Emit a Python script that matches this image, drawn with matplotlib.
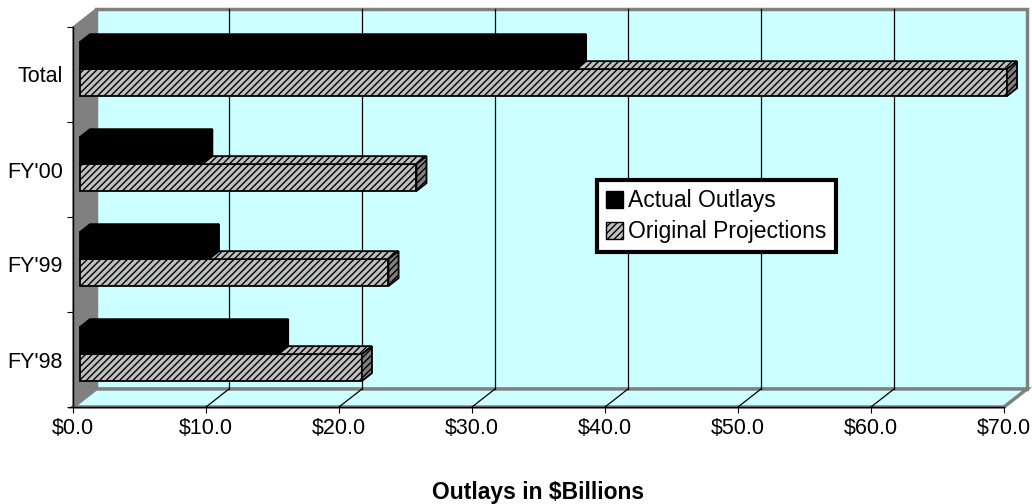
import matplotlib.pyplot as plt
from matplotlib.patches import Polygon, Patch

categories = ["FY'98", "FY'99", "FY'00", "Total"]
actual_outlays = [14.9, 9.7, 9.2, 37.3]
original_projections = [21.2, 23.2, 25.3, 69.7]
x_ticks = [0, 10, 20, 30, 40, 50, 60, 70]
series_names = ["Actual Outlays", "Original Projections"]

plt.rcParams['font.family'] = ['Liberation Sans', 'DejaVu Sans']
plt.rcParams['hatch.linewidth'] = 1.0

fig = plt.figure(figsize=(10.32, 5.04), dpi=100)
ax = fig.add_axes([73 / 1032, 97 / 504, 931 / 1032, 380 / 504])
ax.set_xlim(0, 70)
ax.set_ylim(-0.5, 3.5)
ax.patch.set_alpha(0)

# oblique offset of the box depth, in data units
dx = 1.73
dy = 0.19


def pt(x, y, d):
    return (x + d * dx, y + d * dy)


wall = '#CCFFFF'
grey = '#808080'
xmax = x_ticks[-1]

# back wall, floor and side wall
ax.add_patch(Polygon([pt(0, -0.5, 1), pt(xmax, -0.5, 1), pt(xmax, 3.5, 1), pt(0, 3.5, 1)],
                     closed=True, facecolor=wall, edgecolor=grey, lw=2.5, clip_on=False, zorder=0.1))
ax.add_patch(Polygon([pt(0, -0.5, 0), pt(xmax, -0.5, 0), pt(xmax, -0.5, 1), pt(0, -0.5, 1)],
                     closed=True, facecolor=wall, edgecolor=grey, lw=2.5, clip_on=False, zorder=0.2))
ax.add_patch(Polygon([pt(0, -0.5, 0), pt(0, 3.5, 0), pt(0, 3.5, 1), pt(0, -0.5, 1)],
                     closed=True, facecolor=grey, edgecolor=grey, lw=1, clip_on=False, zorder=0.3))

# gridlines on the back wall and across the floor
for t in x_ticks[1:-1]:
    a, b = pt(t, -0.5, 1), pt(t, 3.5, 1)
    ax.plot([a[0], b[0]], [a[1], b[1]], color='black', lw=0.9, clip_on=False, zorder=0.4)
    c = pt(t, -0.5, 0)
    ax.plot([c[0], a[0]], [c[1], a[1]], color='black', lw=0.9, clip_on=False, zorder=0.4)

d0, d1 = 0.3, 0.74
h = 0.284
z = [3]


def bar3d(y, v, front, top, side, hatch):
    ax.barh(y + d0 * dy, v, height=h, left=d0 * dx, align='edge', color=front,
            edgecolor='black', lw=1.3, hatch=hatch, zorder=z[0], clip_on=False)
    ax.add_patch(Polygon([pt(0, y + h, d0), pt(v, y + h, d0), pt(v, y + h, d1), pt(0, y + h, d1)],
                         closed=True, facecolor=top, edgecolor='black', lw=1.3, hatch=hatch,
                         zorder=z[0] + 0.1, clip_on=False))
    ax.add_patch(Polygon([pt(v, y, d0), pt(v, y, d1), pt(v, y + h, d1), pt(v, y + h, d0)],
                         closed=True, facecolor=side, edgecolor='black', lw=1.3, hatch=hatch,
                         zorder=z[0] + 0.2, clip_on=False))
    z[0] += 1


for i in range(len(categories)):
    bar3d(i - h, original_projections[i], '#C0C0C0', '#C0C0C0', grey, '/////')
    bar3d(i, actual_outlays[i], 'black', 'black', 'black', None)

for s in ['top', 'right']:
    ax.spines[s].set_visible(False)
for s in ['left', 'bottom']:
    ax.spines[s].set_color('black')
    ax.spines[s].set_linewidth(1)
    ax.spines[s].set_zorder(50)

ax.set_xticks(x_ticks)
ax.set_xticklabels(["\\$%.1f" % t for t in x_ticks])
ax.tick_params(axis='x', direction='out', length=4.3, width=0.8, pad=3.6, labelsize=15.5)
ax.set_yticks([-0.5, 0.5, 1.5, 2.5, 3.5])
ax.set_yticklabels([])
ax.tick_params(axis='y', which='major', direction='out', length=4.3, width=0.8)
ax.set_yticks(range(len(categories)), minor=True)
ax.set_yticklabels(categories, minor=True)
ax.tick_params(axis='y', which='minor', length=0, pad=7.2, labelsize=15.5)

fig.text(538 / 1032, 1 - 493 / 504, "Outlays in \\$Billions", ha='center', va='center',
         fontsize=16.5, fontweight='bold')

handles = [Patch(facecolor='black', edgecolor='black'),
           Patch(facecolor='#C0C0C0', edgecolor='black', hatch='/////')]
leg = ax.legend(handles, series_names, loc='upper left', bbox_to_anchor=(597 / 1032, 1 - 180 / 504),
                bbox_transform=fig.transFigure, borderaxespad=0, fontsize=16.5, fancybox=False,
                framealpha=1, edgecolor='black', handlelength=0.75, handleheight=0.75,
                handletextpad=0.22, labelspacing=0.35, borderpad=0.4)
leg.get_frame().set_linewidth(3)
leg.set_zorder(100)

fig.savefig('out.png', dpi=100)
